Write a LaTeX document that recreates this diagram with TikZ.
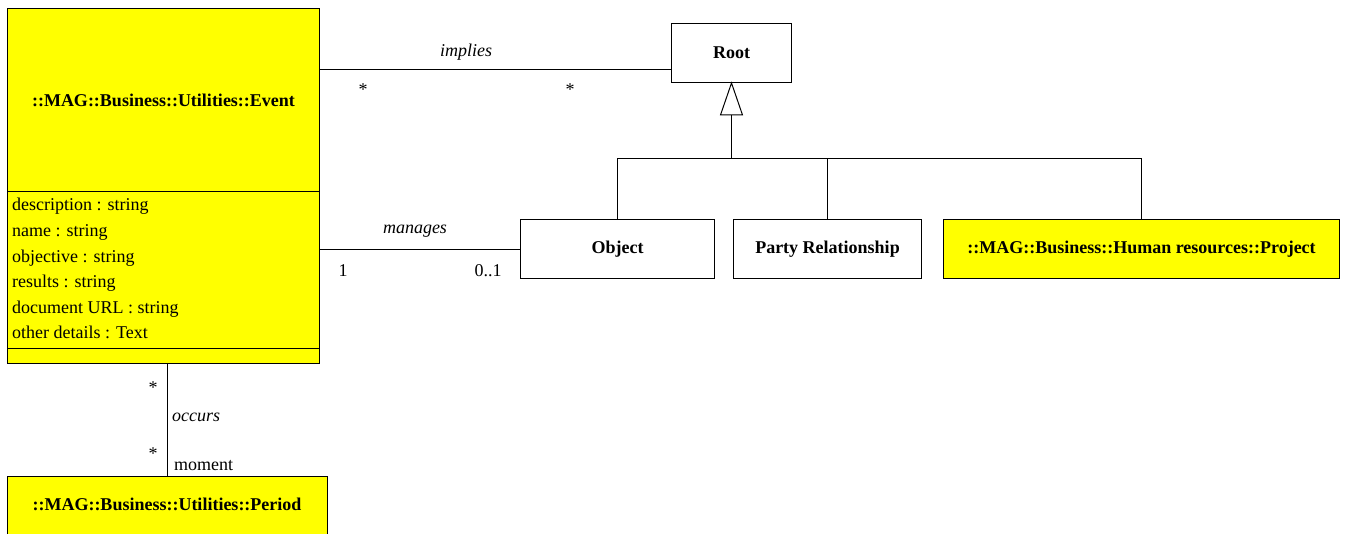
\documentclass[tikz,border=0pt]{standalone}
\usepackage{fontspec}
\setmainfont{Liberation Serif}
\definecolor{clsyellow}{RGB}{255,255,0}
\begin{document}
\begin{tikzpicture}[x=1pt,y=-1pt,
  txt/.style={inner sep=0pt, font=\fontsize{18}{25.6}\selectfont},
  cls/.style={draw=black, line width=1pt, inner sep=0pt, anchor=north west,
    font=\fontsize{18}{25.6}\selectfont\bfseries},
  hl/.style={fill=clsyellow},
  assoc/.style={draw=black, line width=1pt},
  role/.style={txt, font=\fontsize{18}{25.6}\selectfont\itshape},
  attr/.style={txt, anchor=base west}]
\useasboundingbox (0,0) rectangle (1345,534);
\clip (0,0) rectangle (1345,534);

% Event class: name, attribute and operation compartments
\node[cls, hl, minimum width=312, minimum height=183] (evhead) at (7,8)
  {::MAG::Business::Utilities::Event};
\node[cls, hl, minimum width=312, minimum height=157] (evattr) at (7,191) {};
\node[cls, hl, minimum width=312, minimum height=15] (evops) at (7,348) {};
\foreach \t [count=\i] in {description : string, name : string,
    objective : string, results : string, document URL : string,
    other details : Text}
  \node[attr] (attr\i) at (12,{185.4+25.6*\i}) {\t};

% Other classes
\node[cls, minimum width=120, minimum height=59] (root) at (671,23) {Root};
\node[cls, minimum width=194, minimum height=59] (object) at (520,219) {Object};
\node[cls, minimum width=188, minimum height=59] (party) at (733,219) {Party Relationship};
\node[cls, hl, minimum width=396, minimum height=59] (project) at (943,219)
  {::MAG::Business::Human resources::Project};
\node[cls, hl, minimum width=320, minimum height=64] (period) at (7,476) {};
\node[txt, font=\fontsize{18}{25.6}\selectfont\bfseries] (periodname) at (167,504)
  {::MAG::Business::Utilities::Period};

% Reference levels for connectors
\coordinate (impy) at (0,70);
\coordinate (many) at (0,250);
\coordinate (gbar) at (0,159);
\coordinate (occx) at (167,0);

% Associations
\draw[assoc] (evhead.east |- impy) -- (root.west |- impy);
\node[role] (implies) at (466,52) {implies};
\node[txt] (impA) at (363,90) {*};
\node[txt] (impB) at (570,90) {*};

\draw[assoc] (evattr.east |- many) -- (object.west |- many);
\node[role] (manages) at (415,231) {manages};
\node[txt] (manA) at (343,271) {1};
\node[txt] (manB) at (488,271) {0..1};

\draw[assoc] (evops.south -| occx) -- (period.north -| occx);
\node[txt] (occA) at (153,388) {*};
\node[txt] (occB) at (153,454) {*};
\node[role, anchor=west] (occurs) at (172,417) {occurs};
\node[txt, anchor=west] (moment) at (174,466) {moment};

% Generalization tree
\draw[assoc, fill=white] (root.south) -- ++(-11,32) -- ++(22,0) -- cycle;
\draw[assoc] (root.south) ++(0,32) -- (root.south |- gbar);
\draw[assoc] (object.north) |- (project.north |- gbar) -- (project.north);
\draw[assoc] (party.north) -- (party.north |- gbar);
\end{tikzpicture}
\end{document}
